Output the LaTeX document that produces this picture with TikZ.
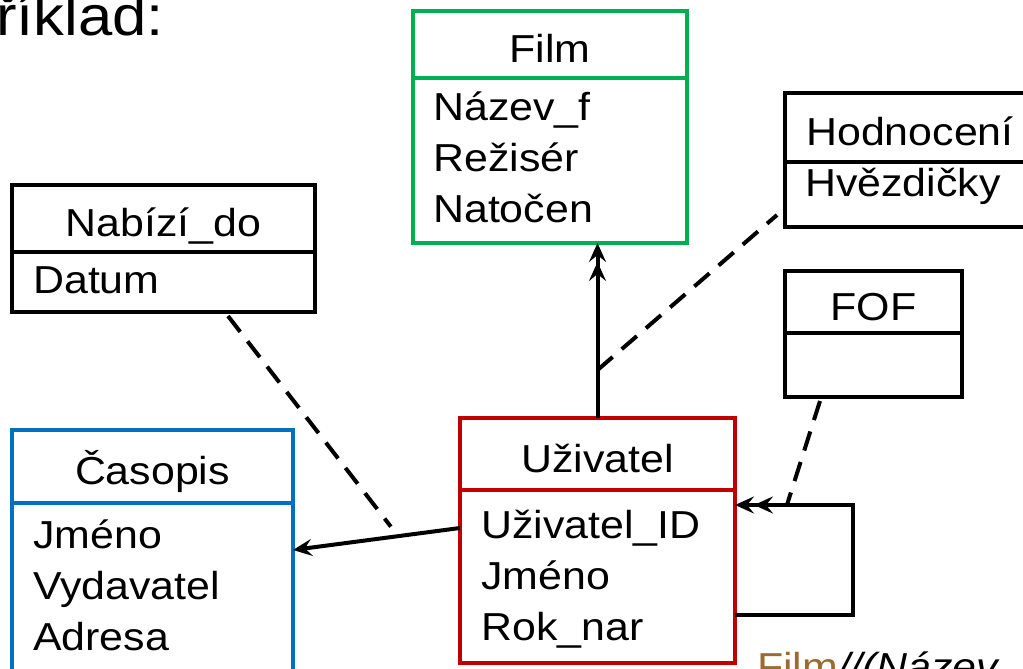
\documentclass[tikz,border=0pt]{standalone}
\usepackage{fontspec}
\setmainfont{Liberation Sans}[FakeStretch=1.1]
\usetikzlibrary{arrows.meta,calc}
\definecolor{filmgreen}{RGB}{0,176,80}
\definecolor{casblue}{RGB}{0,112,192}
\definecolor{uzred}{RGB}{192,0,0}
\definecolor{relbrown}{RGB}{156,107,48}

\tikzset{
  entity/.style={draw=#1, line width=4pt, anchor=north west, inner sep=0pt,
    outer sep=0pt, text height=36pt, text depth=0pt},
  entity/.default=black,
  attr/.style={anchor=base west, inner sep=0pt},
  link/.style={line width=4pt},
  optlink/.style={line width=4pt, dash pattern=on 20pt off 12pt},
}

\begin{document}
\begin{tikzpicture}[x=1pt, y=-1pt, font=\fontsize{39}{51}\selectfont,
    >={Stealth[length=19pt,width=17pt,inset=7pt]}]
  \useasboundingbox (0,0) rectangle (1023,669);
  \clip (0,0) rectangle (1023,669);

  \node[attr, font=\fontsize{56}{64}\selectfont] (title) at (-45,36) {Příklad:};

  % entities
  \node[entity=filmgreen, minimum width=274pt, minimum height=67pt] (film) at (413,11) {Film};
  \node[entity=filmgreen, minimum width=274pt, minimum height=165pt] (film-a) at (film.south west) {};
  \foreach \y/\a in {120/Název\_f, 171/Režisér, 222/Natočen}
    \node[attr] at (433,\y) {\a};

  \node[entity, minimum width=250pt, minimum height=69pt] (hod) at (785,93) {Hodnocení};
  \node[entity, minimum width=250pt, minimum height=65pt] (hod-a) at (hod.south west) {};
  \node[attr] at (805,196) {Hvězdičky};

  \node[entity, minimum width=303pt, minimum height=67pt] (nab) at (12,185) {Nabízí\_do};
  \node[entity, minimum width=303pt, minimum height=60pt] (nab-a) at (nab.south west) {};
  \node[attr] at (33,293) {Datum};

  \node[entity, minimum width=177pt, minimum height=62pt] (fof) at (785,271) {FOF};
  \node[entity, minimum width=177pt, minimum height=64pt] (fof-a) at (fof.south west) {};

  \node[entity=casblue, minimum width=281pt, minimum height=73pt] (cas) at (12,430) {Časopis};
  \node[entity=casblue, minimum width=281pt, minimum height=200pt] (cas-a) at (cas.south west) {};
  \foreach \y/\a in {548/Jméno, 599/Vydavatel, 650/Adresa}
    \node[attr] at (33,\y) {\a};

  \node[entity=uzred, minimum width=275pt, minimum height=72pt] (uziv) at (460,418) {Uživatel};
  \node[entity=uzred, minimum width=275pt, minimum height=173pt] (uziv-a) at (uziv.south west) {};
  \foreach \y/\a in {538/Uživatel\_ID, 589/Jméno, 640/Rok\_nar}
    \node[attr] at (481,\y) {\a};

  % relationships
  \draw[link, ->>] (uziv.north) -- (uziv.north |- film-a.south) coordinate[pos=0.274] (hod-join);
  \draw[optlink] (hod-join) -- ($(hod-a.south west)+(-8,-12)$);

  \draw[link, ->] ($(uziv-a.north west)+(0,38)$) -- ($(cas-a.north east)+(0,47)$)
    coordinate[pos=0.37] (nab-join);
  \draw[optlink, shorten >=12pt] ($(nab-a.south west)+(216,4)$) -- (nab-join);

  \draw[link, ->>] ($(uziv-a.south east)+(0,-48)$) -- ++(118,0)
    |- ($(uziv-a.north east)+(0,15)$) coordinate[pos=0.78] (fof-join);
  \draw[optlink] ($(fof-a.south west)+(35,4)$) -- (fof-join);

  \node[attr] (rel) at (757,680) {\textcolor{relbrown}{Film}\textit{//(Název}};
\end{tikzpicture}
\end{document}
